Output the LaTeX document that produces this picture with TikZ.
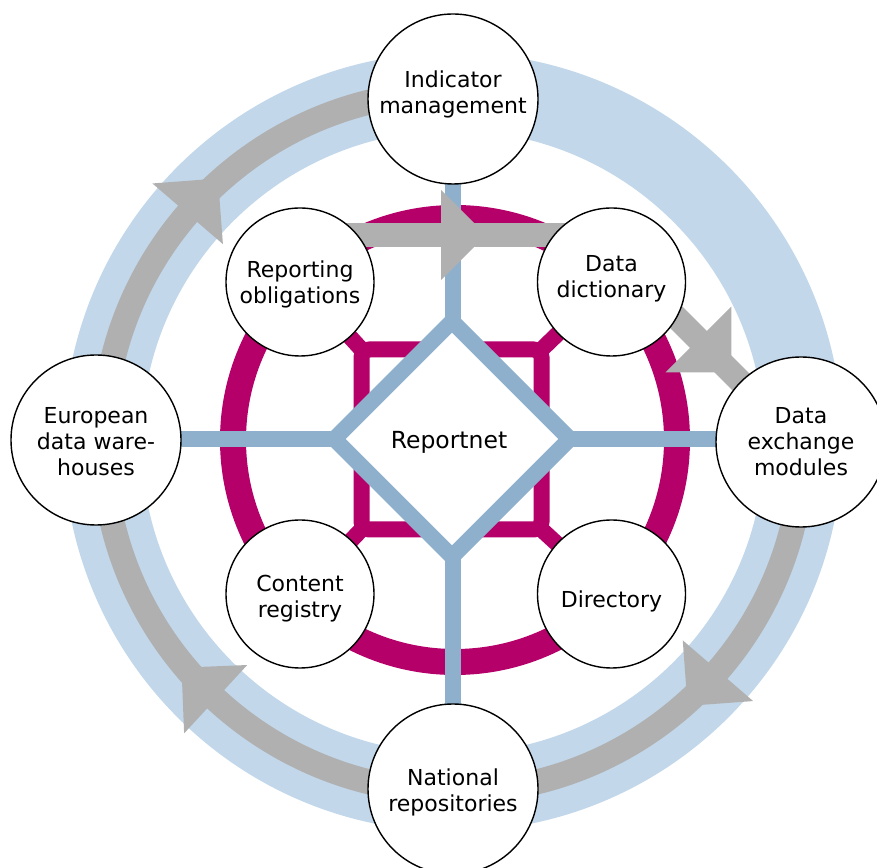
\documentclass[tikz,border=0pt]{standalone}
\usepackage{fontspec}
\setmainfont{DejaVu Sans}
\usetikzlibrary{shapes.geometric}
\definecolor{ringblue}{RGB}{194,215,234}
\definecolor{lineblue}{RGB}{142,176,204}
\definecolor{flowgray}{RGB}{176,176,176}
\definecolor{magring}{RGB}{181,0,106}
\pgfdeclarelayer{bg}
\pgfsetlayers{bg,main}
\begin{document}
\begin{tikzpicture}[x=1pt,y=1pt,
  every node/.style={font=\fontsize{22}{26}\selectfont, text=black},
  txt/.style={align=center,inner sep=0pt},
  bigcirc/.style={circle,draw=black,line width=1.4pt,fill=white,minimum size=170pt,inner sep=0pt},
  smallcirc/.style={bigcirc,minimum size=148pt},
  hub/.style={diamond,draw=lineblue,line width=16pt,fill=white,minimum width=242pt,minimum height=242pt,inner sep=0pt,aspect=1},
  ringband/.style={draw=ringblue,line width=78pt},
  flowband/.style={draw=flowgray,line width=25pt},
  magband/.style={draw=magring,line width=26pt},
  maglink/.style={draw=magring,line width=16pt},
  blueline/.style={draw=lineblue,line width=16pt},
  flowbar/.style={draw=flowgray,line width=24pt},
]
\useasboundingbox (0,0) rectangle (877,867);
\clip (0,0) rectangle (877,867);
\coordinate (C) at (453,425);
\coordinate (M) at (455,427);
\coordinate (SQtl) at (361.5,517.5);
\coordinate (SQtr) at (541.5,517.5);
\coordinate (SQbl) at (361.5,337.5);
\coordinate (SQbr) at (541.5,337.5);

% nodes
\node[bigcirc,label={[txt,yshift=4.5pt]center:Indicator\\management}] (IM) at (453,768) {};
\node[bigcirc,label={[txt,yshift=-3.5pt]center:National\\repositories}] (NR) at (453,78) {};
\node[bigcirc,label={[txt,yshift=-2pt]center:European\\data ware-\\houses}] (EW) at (96,427) {};
\node[bigcirc,label={[txt]center:Data\\exchange\\modules}] (DX) at (801,425) {};
\node[smallcirc,label={[txt,yshift=-2.5pt]center:Reporting\\obligations}] (RO) at (300,585) {};
\node[smallcirc,label={[txt,yshift=3.5pt]center:Data\\dictionary}] (DD) at (611.5,585) {};
\node[smallcirc,label={[txt,yshift=-5pt]center:Content\\registry}] (CR) at (300,273) {};
\node[smallcirc,label={[txt,yshift=-7pt]center:Directory}] (DI) at (611.5,273) {};
\node[hub,label={[txt,xshift=-3pt,yshift=-3pt,font=\fontsize{23.5}{28}\selectfont]center:Reportnet}] (RN) at (452,428) {};

\begin{pgfonlayer}{bg}
  % outer light blue ring
  \draw[ringband] (C) circle[radius=350.5];
  % grey flow on the ring
  \draw[flowband] ([shift={(90:350)}]C) arc[start angle=90,end angle=270,radius=350];
  \draw[flowband] ([shift={(270:350)}]C) arc[start angle=270,end angle=360,radius=350];
  \foreach \a in {139.3,227.3,319.2}{
    \begin{scope}[shift={(453,425)},rotate=\a]
      \fill[flowgray] (396.5,0) -- (303.5,0) -- (350,-46.5) -- cycle;
    \end{scope}
  }
  % magenta ring and square
  \draw[magband] (M) circle[radius=222];
  \draw[maglink,rounded corners=8pt] (SQbl) rectangle (SQtr);
  \draw[maglink] (SQtl) -- (RO.center);
  \draw[maglink] (SQtr) -- (DD.center);
  \draw[maglink] (SQbl) -- (CR.center);
  \draw[maglink] (SQbr) -- (DI.center);
  % blue lines
  \draw[blueline] (EW.center |- RN.center) -- (DX.center |- RN.center);
  \draw[blueline] (IM.center) -- (NR.center);
  % grey inner arrows
  \draw[flowbar] ([yshift=47pt]RO.center) -- ([yshift=47pt]DD.center);
  \fill[flowgray] (441,677) -- (441,587) -- (486,632) -- cycle;
  \draw[flowbar] (DX.center) -- ++(135:185);
  \begin{scope}[shift={(801,425)},rotate=135]
    \fill[flowgray] (145,46.5) -- (145,-46.5) -- (98.5,0) -- cycle;
  \end{scope}
\end{pgfonlayer}
\end{tikzpicture}
\end{document}
